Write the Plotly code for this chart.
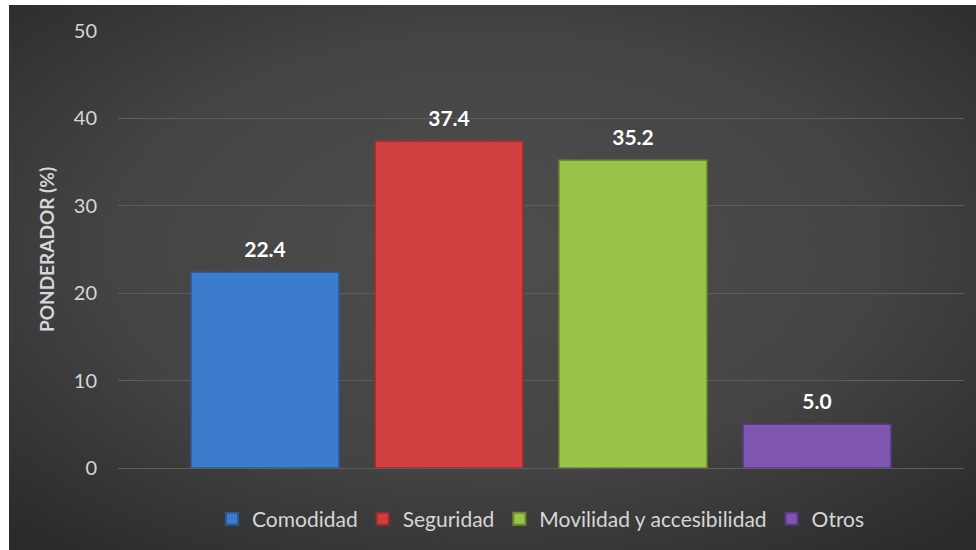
import base64
import plotly.graph_objects as go

# Series (one bar each) and their values
series = ["Comodidad", "Seguridad", "Movilidad y accesibilidad", "Otros"]
values = [22.4, 37.4, 35.2, 5.0]
category = ["Ponderador"]

fill_colors = ["#3b7ccc", "#d03f3f", "#97c449", "#7f55b2"]
edge_colors = ["#2a5a98", "#9c2c2c", "#6b8c30", "#5a3a86"]

y_ticks = [0, 10, 20, 30, 40, 50]

FONT = "Lato"
TEXT_GREY = "#d6d6d6"
LABEL_GAP = 0.9    # value-units of space between bar top and its label

fig = go.Figure()
for i, (name, val, fc, ec) in enumerate(zip(series, values, fill_colors, edge_colors)):
    fig.add_trace(go.Bar(
        name=name,
        x=category,
        y=[val],
        offsetgroup=str(i),
        marker=dict(color=fc, line=dict(color=ec, width=1.5)),
    ))

# value labels, lifted a little above each bar
for i, val in enumerate(values):
    fig.add_trace(go.Bar(
        x=category, y=[LABEL_GAP], base=[val],
        offsetgroup=str(i), showlegend=False, hoverinfo="skip",
        marker=dict(color="rgba(0,0,0,0)", line=dict(width=0)),
        text=[f"{val:.1f}"], textposition="outside",
        textfont=dict(family=FONT, size=21, color="#ffffff", weight="bold"),
        cliponaxis=False,
    ))

# Dark radial-gradient backdrop for the whole chart area
svg = (
    "<svg xmlns='http://www.w3.org/2000/svg' width='967' height='545' "
    "viewBox='0 0 967 545' preserveAspectRatio='none'>"
    "<defs><radialGradient id='g' cx='0.5' cy='0.45' r='0.72'>"
    "<stop offset='0' stop-color='#4e4e4e'/>"
    "<stop offset='0.55' stop-color='#444444'/>"
    "<stop offset='1' stop-color='#2a2a2a'/>"
    "</radialGradient></defs>"
    "<rect width='967' height='545' fill='url(#g)'/></svg>"
)
bg_src = "data:image/svg+xml;base64," + base64.b64encode(svg.encode()).decode()

W, H = 976, 550
ML, MR, MT, MB = 118, 12, 31, 82
pw, ph = W - ML - MR, H - MT - MB
x0 = (9 - ML) / pw
x1 = (W - ML) / pw
y_top = 1 + (MT - 5) / ph
y_bot = -MB / ph

fig.add_layout_image(dict(
    source=bg_src, xref="paper", yref="paper",
    x=x0, y=y_top, sizex=x1 - x0, sizey=y_top - y_bot,
    xanchor="left", yanchor="top", sizing="stretch", layer="below",
))

fig.update_layout(
    width=W, height=H,
    margin=dict(l=ML, r=MR, t=MT, b=MB, autoexpand=False),
    paper_bgcolor="#ffffff",
    plot_bgcolor="rgba(0,0,0,0)",
    barmode="group",
    bargap=0.13,
    bargroupgap=0.196,
    font=dict(family=FONT, color=TEXT_GREY),
    showlegend=True,
    legend=dict(
        orientation="h", x=0.5, xanchor="center", y=-0.117, yanchor="middle",
        font=dict(family=FONT, size=21, color=TEXT_GREY),
        bgcolor="rgba(0,0,0,0)", itemsizing="constant",
    ),
    xaxis=dict(showticklabels=False, showgrid=False, zeroline=False,
               showline=False, ticks=""),
    yaxis=dict(
        range=[0, 50], tickvals=y_ticks,
        tickfont=dict(family=FONT, size=20, color=TEXT_GREY),
        gridcolor="#5d5d5d", gridwidth=1,
        zeroline=True, zerolinecolor="#5d5d5d", zerolinewidth=1,
        showline=False, ticklabelstandoff=20,
        title=dict(text="PONDERADOR (%)", standoff=14,
                   font=dict(family=FONT, size=19, color=TEXT_GREY, weight="bold")),
    ),
)

fig.write_html("out.html")
